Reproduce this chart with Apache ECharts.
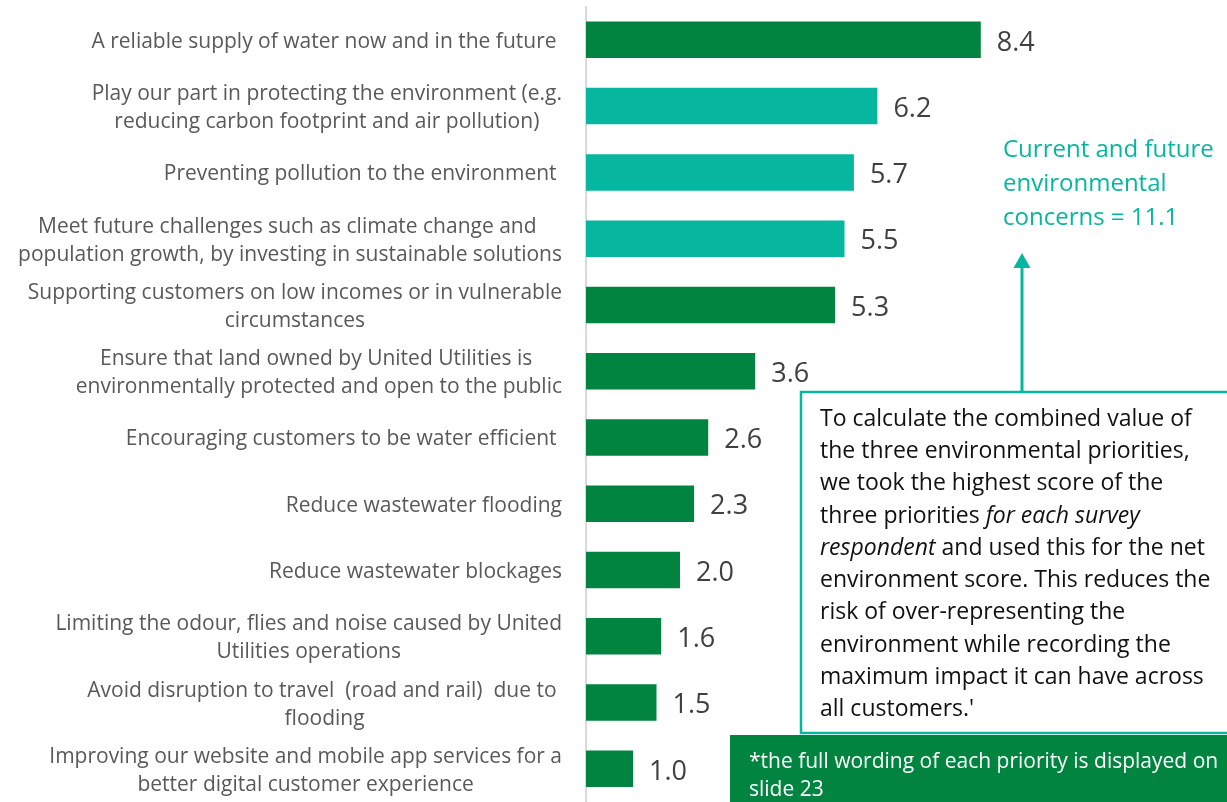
<!DOCTYPE html>
<html>
<head>
<meta charset="utf-8">
<script src="https://cdn.jsdelivr.net/npm/echarts@6/dist/echarts.min.js"></script>
<style>
  html, body { margin: 0; padding: 0; background: #ffffff; }
  #chart { width: 1227px; height: 802px; }
</style>
</head>
<body>
<div id="chart"></div>
<script>
// Customer priorities, top to bottom
const categories = [
  'A reliable supply of water now and in the future ',
  'Play our part in protecting the environment (e.g.\nreducing carbon footprint and air pollution)',
  'Preventing pollution to the environment ',
  'Meet future challenges such as climate change and \npopulation growth, by investing in sustainable solutions',
  'Supporting customers on low incomes or in vulnerable\ncircumstances',
  'Ensure that land owned by United Utilities is \nenvironmentally protected and open to the public',
  'Encouraging customers to be water efficient ',
  'Reduce wastewater flooding',
  'Reduce wastewater blockages',
  'Limiting the odour, flies and noise caused by United\nUtilities operations',
  'Avoid disruption to travel  (road and rail)  due to \nflooding',
  'Improving our website and mobile app services for a\nbetter digital customer experience'
];

// Priority scores
const scores = [8.4, 6.2, 5.7, 5.5, 5.3, 3.6, 2.6, 2.3, 2.0, 1.6, 1.5, 1.0];

// Which priorities belong to the environmental group
const environmental = [false, true, true, true, false, false, false, false, false, false, false, false];

const envTotalText = 'Current and future\nenvironmental\nconcerns = 11.1';
const footnoteText = '*the full wording of each priority is displayed on\nslide 23';

const GREEN = '#00843F';
const TEAL = '#06B69E';
const FONT = 'Open Sans';

const chart = echarts.init(document.getElementById('chart'), null, { renderer: 'canvas' });

const noteRich = {
  n: { fontFamily: FONT, fontSize: 23, fill: '#111111', lineHeight: 32.3 },
  i: { fontFamily: FONT, fontSize: 23, fill: '#111111', lineHeight: 32.3, fontStyle: 'italic' }
};
const noteText = [
  '{n|To calculate the combined value of}',
  '{n|the three environmental priorities,}',
  '{n|we took the highest score of the}',
  '{n|three priorities }{i|for each survey}',
  '{i|respondent}{n| and used this for the net}',
  '{n|environment score. This reduces the}',
  '{n|risk of over-representing the}',
  '{n|environment while recording the}',
  '{n|maximum impact it can have across}',
  "{n|all customers.'}"
].join('\n');

chart.setOption({
  animation: false,
  grid: { left: 586, top: 6.7, width: 470, height: 798.6, containLabel: false },
  xAxis: { type: 'value', min: 0, max: 10, show: false },
  yAxis: {
    type: 'category',
    inverse: true,
    data: categories,
    axisLine: { show: true, lineStyle: { color: '#d9d9d9', width: 2 } },
    axisTick: { show: false },
    splitLine: { show: false },
    axisLabel: {
      margin: 24,
      align: 'right',
      padding: [4, 0, 0, 0],
      formatter: function (v) {
        return v.split('\n').map(function (l) { return '{c|' + l + '}'; }).join('\n');
      },
      rich: {
        c: { align: 'center', fontFamily: FONT, fontSize: 21, color: '#595959', lineHeight: 28 }
      }
    }
  },
  series: [{
    type: 'bar',
    barWidth: 36.5,
    data: scores.map(function (v, i) {
      return { value: v, itemStyle: { color: environmental[i] ? TEAL : GREEN } };
    }),
    label: {
      show: true,
      position: 'right',
      distance: 16,
      offset: [0, 3],
      fontFamily: FONT,
      fontSize: 27,
      color: '#404040',
      formatter: function (p) { return p.value.toFixed(1); }
    }
  }],
  graphic: [
    {
      type: 'text', left: 1003, top: 133, z: 10,
      style: { text: envTotalText, fontFamily: FONT, fontSize: 24, lineHeight: 34, fill: TEAL }
    },
    {
      type: 'line', z: 10,
      shape: { x1: 1022, y1: 392, x2: 1022, y2: 266 },
      style: { stroke: TEAL, lineWidth: 3 }
    },
    {
      type: 'polygon', z: 10,
      shape: { points: [[1022, 253], [1013.5, 268], [1030.5, 268]] },
      style: { fill: TEAL }
    },
    {
      type: 'rect', z: 10,
      shape: { x: 801, y: 392, width: 440, height: 341 },
      style: { fill: '#ffffff', stroke: TEAL, lineWidth: 2.5 }
    },
    {
      type: 'text', x: 820, y: 403, z: 11,
      style: { text: noteText, rich: noteRich, fontFamily: FONT, fontSize: 23, fill: '#111111', verticalAlign: 'top' }
    },
    {
      type: 'rect', z: 10,
      shape: { x: 730, y: 735, width: 510, height: 80 },
      style: { fill: GREEN }
    },
    {
      type: 'text', x: 749, y: 748, z: 11,
      style: { text: footnoteText, fontFamily: FONT, fontSize: 21, lineHeight: 28, fill: '#ffffff', verticalAlign: 'top' }
    }
  ]
});
</script>
</body>
</html>
